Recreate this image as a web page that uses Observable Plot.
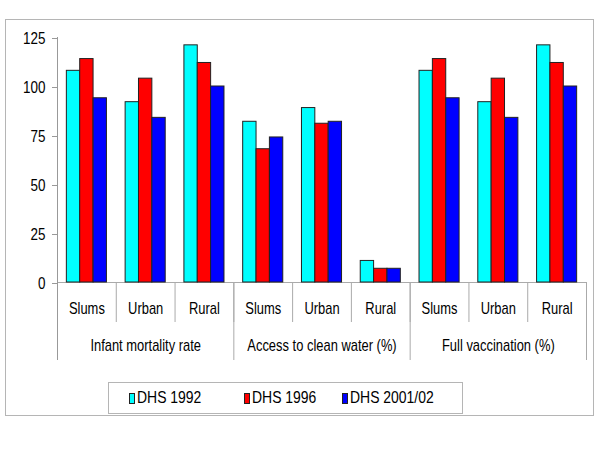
<!DOCTYPE html>
<html>
<head>
<meta charset="utf-8">
<script src="https://cdn.jsdelivr.net/npm/d3@7"></script>
<script src="https://cdn.jsdelivr.net/npm/@observablehq/plot@0.6"></script>
<style>
  html, body { margin: 0; padding: 0; background: #fff; }
  #wrap { position: relative; width: 600px; height: 450px; font-family: "Liberation Sans", Arial, sans-serif; }
  #outer { position: absolute; left: 5px; top: 19px; width: 587px; height: 395px; border: 1px solid #b5b5b5; }
  #chart { position: absolute; left: 0; top: 0; }
  #legend { position: absolute; left: 108px; top: 382px; width: 353px; height: 30px; border: 1px solid #b5b5b5; background: #fff; }
  #legend .leg-swatches { margin: 0 !important; min-height: 0 !important; height: 30px; padding-left: 20px;
    font: 17px "Liberation Sans", Arial, sans-serif !important; color: #000; display: flex; align-items: center; flex-wrap: nowrap; }
  #legend .leg-swatch { margin: 0 !important; display: inline-flex !important; align-items: center; }
  #legend .leg-swatch > svg { margin-right: 2px !important; border: 1px solid #222; }
  #legend .lab { display: inline-block; transform: scaleX(0.82); transform-origin: left center; white-space: nowrap; }
</style>
</head>
<body>
<div id="wrap">
  <div id="outer"></div>
  <div id="chart"></div>
  <div id="legend"></div>
</div>
<script>
// ---- data ----
const indicators = ["Infant mortality rate", "Access to clean water (%)", "Full vaccination (%)"];
const areas = ["Slums", "Urban", "Rural"];
const series = ["DHS 1992", "DHS 1996", "DHS 2001/02"];
const dhs1992 = [108, 92, 121, 82, 89, 11, 108, 92, 121];
const dhs1996 = [114, 104, 112, 68, 81, 7, 114, 104, 112];
const dhs2001 = [94, 84, 100, 74, 82, 7, 94, 84, 100];
const yTicks = [0, 25, 50, 75, 100, 125];
const colors = ["#00FFFF", "#FF0000", "#0000FF"];

// ---- derived tables ----
const cats = [];
indicators.forEach((ind, g) => areas.forEach((a, i) => cats.push({key: ind + "|" + a, ind, area: a, g, i})));
const keys = cats.map(d => d.key);
const valuesBySeries = [dhs1992, dhs1996, dhs2001];
const rows = [];
cats.forEach((c, k) => series.forEach((s, j) => rows.push({key: c.key, series: s, value: valuesBySeries[j][k]})));
const groups = indicators.map((ind, g) => ({name: ind, key: ind + "|" + areas[1]}));
const groupStarts = indicators.map(ind => ind + "|" + areas[0]);

const lineColor = "#aaaaaa";
const chart = Plot.plot({
  width: 600,
  height: 450,
  marginLeft: 57,
  marginRight: 14,
  marginTop: 37,
  marginBottom: 168,
  style: {fontFamily: "'Liberation Sans', Arial, sans-serif", fontSize: "17px", background: "transparent", color: "#000"},
  fx: {domain: keys, padding: 0, round: false, axis: null},
  x: {domain: series, paddingInner: 0, paddingOuter: 0.7, round: false, axis: null},
  y: {domain: [0, 125], axis: null},
  color: {domain: series, range: colors},
  marks: [
    // category axis baseline
    Plot.frame({anchor: "bottom", stroke: lineColor}),
    // short dividers between categories
    Plot.frame({anchor: "left", stroke: lineColor, insetTop: 245, insetBottom: -39}),
    // long dividers between indicator groups
    ...groupStarts.slice(1).map(k => Plot.frame({anchor: "left", fx: [k], stroke: lineColor, insetTop: 245, insetBottom: -77})),
    Plot.frame({anchor: "right", fx: [keys[keys.length - 1]], stroke: lineColor, insetTop: 245, insetBottom: -77}),
    // value axis line, continuing down as the first divider
    Plot.frame({anchor: "left", fx: [keys[0]], stroke: "#999", insetBottom: -77}),
    Plot.axisY({ticks: yTicks, label: null, tickSize: 5, tickPadding: 7, stroke: "#999", fontSize: 17, fill: "#000", dy: 1}),
    Plot.barY(rows, {fx: "key", x: "series", y: "value", fill: "series", stroke: "#222", strokeWidth: 1}),
    Plot.text(cats, {fx: "key", text: "area", frameAnchor: "bottom", dy: 31, fontSize: 17, fill: "#000"}),
    Plot.text(groups, {fx: "key", text: "name", frameAnchor: "bottom", dy: 68, fontSize: 17, fill: "#000"})
  ]
});
document.getElementById("chart").appendChild(chart);

// narrow lettering like the original
chart.querySelectorAll("text").forEach(t => {
  const inTick = t.closest('[aria-label="y-axis tick label"]');
  const f = inTick ? 0.79 : 0.76;
  const L = t.getComputedTextLength();
  if (L > 0) {
    t.setAttribute("textLength", (L * f).toFixed(2));
    t.setAttribute("lengthAdjust", "spacingAndGlyphs");
  }
});

// legend
const leg = Plot.legend({
  color: {domain: series, range: colors},
  legend: "swatches",
  swatchWidth: 4,
  swatchHeight: 9,
  className: "leg"
});
document.getElementById("legend").appendChild(leg);
const items = leg.querySelectorAll(".leg-swatch");
const itemWidths = [115, 98, null];
items.forEach((it, i) => {
  if (itemWidths[i]) it.style.width = itemWidths[i] + "px";
  Array.from(it.childNodes).forEach(n => {
    if (n.nodeType === 3 && n.textContent.trim()) {
      const s = document.createElement("span");
      s.className = "lab";
      s.textContent = n.textContent;
      it.replaceChild(s, n);
    } else if (n.nodeType === 1 && n.tagName.toLowerCase() === "span") {
      n.classList.add("lab");
    }
  });
});
</script>
</body>
</html>
